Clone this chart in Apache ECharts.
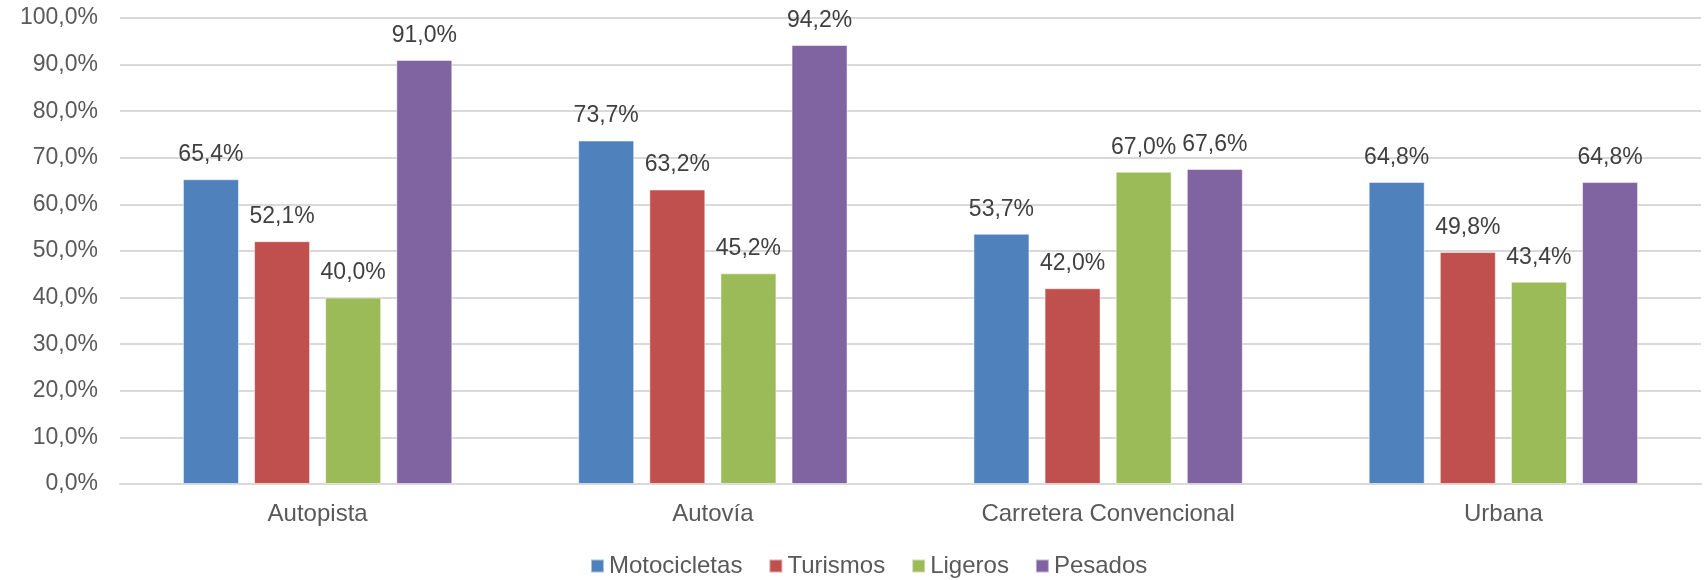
<!DOCTYPE html>
<html><head><meta charset="utf-8">
<script src="https://cdn.jsdelivr.net/npm/echarts@6/dist/echarts.min.js"></script>
<style>html,body{margin:0;padding:0;background:#fff}#c{width:1706px;height:580px}</style>
</head><body><div id="c"></div>
<script>
const categories = ['Autopista', 'Autovía', 'Carretera Convencional', 'Urbana'];
const seriesNames = ['Motocicletas', 'Turismos', 'Ligeros', 'Pesados'];
const motocicletas = [65.4, 73.7, 53.7, 64.8];
const turismos = [52.1, 63.2, 42.0, 49.8];
const ligeros = [40.0, 45.2, 67.0, 43.4];
const pesados = [91.0, 94.2, 67.6, 64.8];
const colors = ['#4F81BD', '#C0504D', '#9BBB59', '#8064A2'];
const values = [motocicletas, turismos, ligeros, pesados];
const fmt = v => v.toFixed(1).replace('.', ',') + '%';
const font = 'Liberation Sans, Arial, sans-serif';
const chart = echarts.init(document.getElementById('c'));
chart.setOption({
  animation: false,
  color: colors,
  grid: { left: 120, right: 5, top: 18, bottom: 96 },
  legend: {
    top: 549, left: 585, itemWidth: 13, itemHeight: 13, itemGap: 26,
    icon: 'rect',
    textStyle: { color: '#595959', fontSize: 24, fontFamily: font },
    data: seriesNames
  },
  xAxis: {
    type: 'category', data: categories,
    axisLine: { lineStyle: { color: '#d9d9d9', width: 2 } },
    axisTick: { show: false },
    axisLabel: { color: '#595959', fontSize: 24, fontFamily: font, margin: 18 }
  },
  yAxis: {
    type: 'value', min: 0, max: 100, interval: 10,
    axisLine: { show: false }, axisTick: { show: false },
    splitLine: { lineStyle: { color: '#d9d9d9', width: 2 } },
    axisLabel: { color: '#595959', fontSize: 23, fontFamily: font, margin: 22, formatter: v => fmt(v) }
  },
  series: seriesNames.map((n, i) => ({
    name: n, type: 'bar', data: values[i],
    barWidth: 56, barGap: '27%',
    itemStyle: { color: colors[i], borderColor: 'rgba(255,255,255,0.5)', borderWidth: 1 },
    label: { show: true, position: 'top', distance: 13, color: '#404040', fontSize: 23, fontFamily: font, formatter: p => fmt(p.value) }
  }))
});
</script></body></html>
